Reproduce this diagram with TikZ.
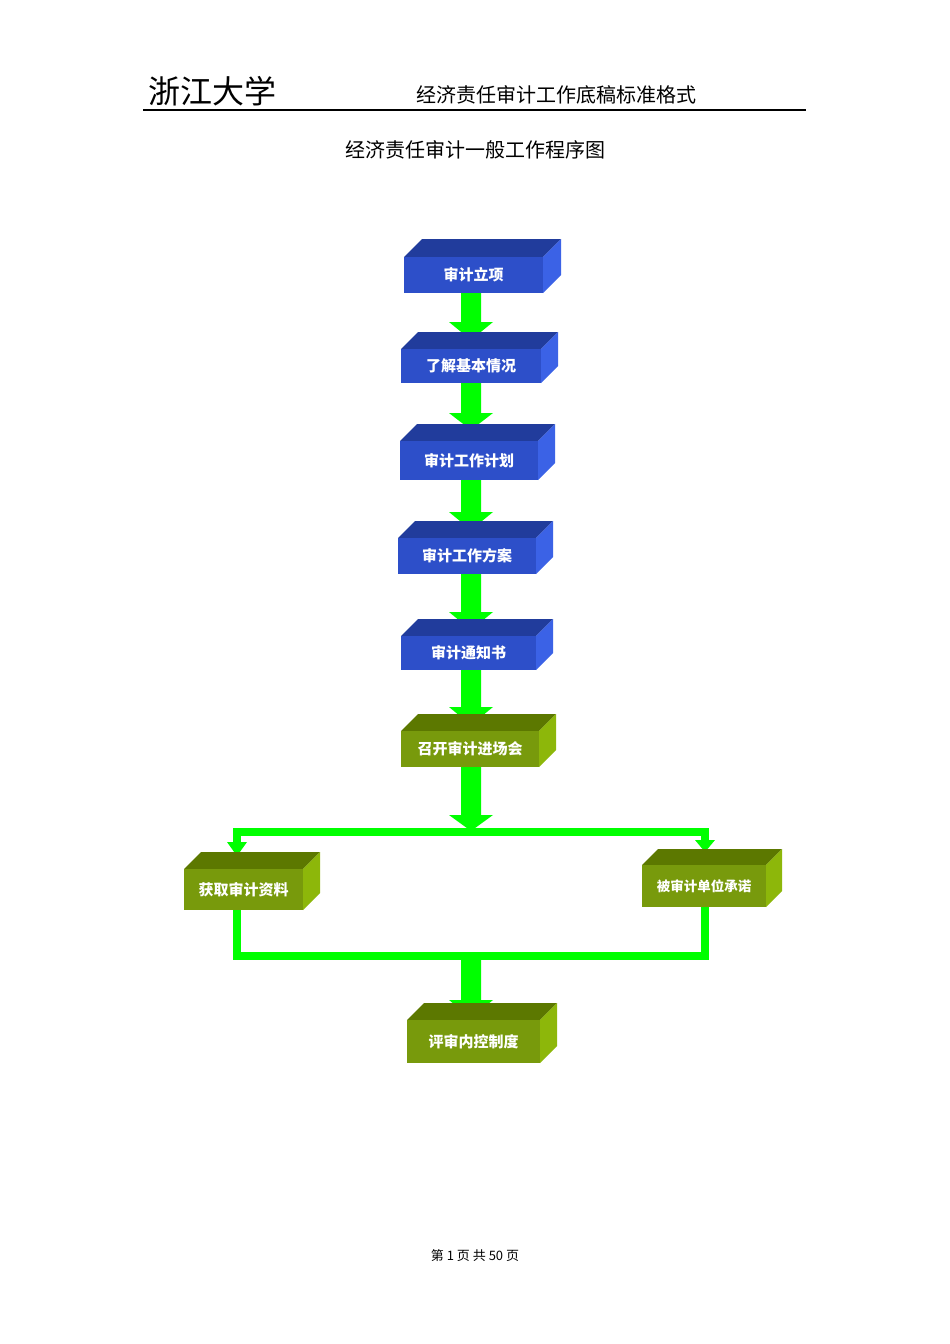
\documentclass[tikz,border=0pt]{standalone}
\usepackage{fontspec}
\newfontfamily\cjk{Noto Sans CJK SC}
\definecolor{bfront}{HTML}{2D4FC9}\definecolor{btop}{HTML}{213C9C}\definecolor{bside}{HTML}{3B62E6}
\definecolor{gfront}{HTML}{789A0C}\definecolor{gtop}{HTML}{5C7800}\definecolor{gside}{HTML}{8DB70A}
\definecolor{arr}{HTML}{00FF00}
\newcommand\cube[8]{%
 \fill[#8top] (#2,#3)--++(#6,-#6)--(#4+#6,#3-#6)--(#4,#3)--cycle;
 \fill[#8side] (#4,#3)--(#4+#6,#3-#6)--(#4+#6,#5-#6)--(#4,#5)--cycle;
 \fill[#8front] (#2,#3) rectangle (#4,#5);
 \node[box] (#1) at ({(#2+#4)/2},{(#3+#5)/2}) {#7};}
\newcommand\garrow[4]{% xc ytop ybase ytip
 \fill[arr] (#1-10,#2)--(#1+10,#2)--(#1+10,#3)--(#1+22,#3)--(#1,#4)--(#1-22,#3)--(#1-10,#3)--cycle;}
\newcommand\sarrow[3]{% xc ybase ytip
 \fill[arr] (#1-10,#2)--(#1+10,#2)--(#1,#3)--cycle;}
\begin{document}
\begin{tikzpicture}[x=1pt,y=-1pt,box/.style={text=white,font=\cjk\bfseries\fontsize{15}{15}\selectfont}]
\useasboundingbox (0,0) rectangle (950,1344);
\node[font=\cjk\fontsize{32}{32}\selectfont,anchor=west] (h1) at (145,91) {浙江大学};
\node[font=\cjk\fontsize{20}{20}\selectfont,anchor=west] (h2) at (413,95) {经济责任审计工作底稿标准格式};
\draw[line width=1.5pt] (143,110)--(806,110);
\node[font=\cjk\fontsize{20}{20}\selectfont] (t) at (475,150) {经济责任审计一般工作程序图};
\node[font=\cjk\fontsize{13}{13}\selectfont] (f) at (475,1256) {第 1 页 共 50 页};
% arrows
\garrow{471}{293}{322}{340}
\garrow{471}{383}{413}{430}
\garrow{471}{480}{512}{530}
\garrow{471}{574}{612}{630}
\garrow{471}{670}{707}{725}
\garrow{471}{767}{815}{831}
\fill[arr] (233,828) rectangle (709,836);
\fill[arr] (233,828) rectangle (241,845);
\fill[arr] (701,828) rectangle (709,842);
\sarrow{237}{842}{856}
\sarrow{705}{840}{852}
\fill[arr] (233,910) rectangle (241,960);
\fill[arr] (701,907) rectangle (709,960);
\fill[arr] (233,952) rectangle (709,960);
\garrow{471}{956}{1000}{1018}
% boxes
\cube{b1}{404}{257}{543}{293}{18}{审计立项}{b}
\cube{b2}{401}{349}{541}{383}{17}{了解基本情况}{b}
\cube{b3}{400}{441}{538}{480}{17}{审计工作计划}{b}
\cube{b4}{398}{538}{536}{574}{17}{审计工作方案}{b}
\cube{b5}{401}{636}{536}{670}{17}{审计通知书}{b}
\cube{b6}{401}{731}{539}{767}{17}{召开审计进场会}{g}
\cube{b7}{184}{869}{303}{910}{17}{获取审计资料}{g}
\cube{b8}{642}{865}{766}{907}{16}{\fontsize{13.5}{14}\selectfont 被审计单位承诺}{g}
\cube{b9}{407}{1020}{540}{1063}{17}{评审内控制度}{g}
\end{tikzpicture}
\end{document}
